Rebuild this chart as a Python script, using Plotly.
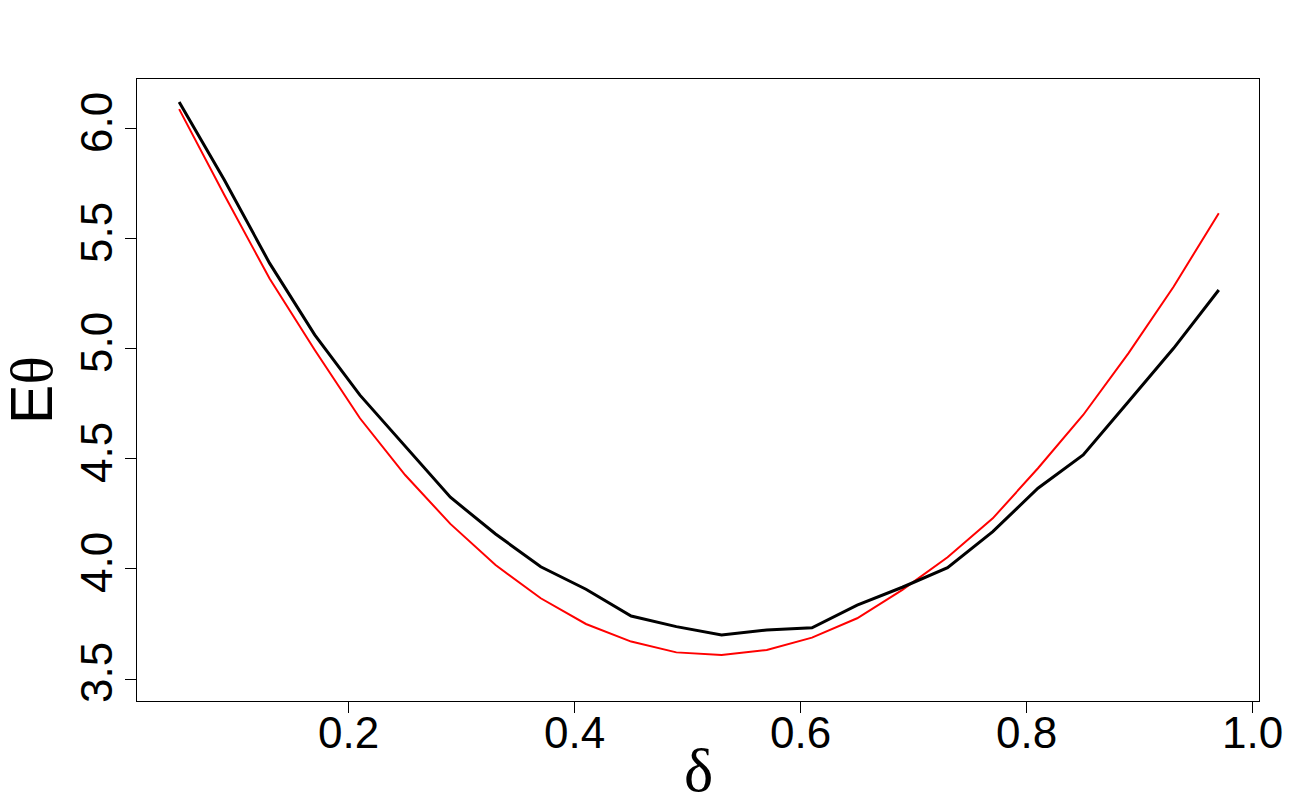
import plotly.graph_objects as go

delta = [0.05, 0.09, 0.13, 0.17, 0.21, 0.25, 0.29, 0.33, 0.37, 0.41, 0.45, 0.49,
         0.53, 0.57, 0.61, 0.65, 0.69, 0.73, 0.77, 0.81, 0.85, 0.89, 0.93, 0.97]
black_series = [6.123, 5.768, 5.39, 5.064, 4.79, 4.556, 4.326, 4.159, 4.01, 3.908, 3.786, 3.738,
                3.70, 3.723, 3.733, 3.836, 3.917, 4.006, 4.17, 4.367, 4.518, 4.76, 5.003, 5.268]
red_series = [6.09, 5.70, 5.32, 4.995, 4.685, 4.427, 4.205, 4.018, 3.867, 3.75, 3.67, 3.621,
              3.609, 3.632, 3.688, 3.776, 3.905, 4.053, 4.23, 4.458, 4.70, 4.98, 5.283, 5.617]
x_ticks = [0.2, 0.4, 0.6, 0.8, 1.0]
y_ticks = [3.5, 4.0, 4.5, 5.0, 5.5, 6.0]
x_title = "<span style='font-family:Liberation Serif'>δ</span>"
y_title = "E<span style='font-family:Liberation Serif'>θ</span>"

fig = go.Figure()
fig.add_trace(go.Scatter(x=delta, y=red_series, mode="lines",
                         line=dict(color="#ff0000", width=2), showlegend=False))
fig.add_trace(go.Scatter(x=delta, y=black_series, mode="lines",
                         line=dict(color="#000000", width=3), showlegend=False))

font_main = "Liberation Sans, Arial, sans-serif"
fig.update_layout(
    width=1300, height=800,
    margin=dict(l=129, r=49, t=71, b=107),
    paper_bgcolor="white", plot_bgcolor="white",
    font=dict(family=font_main, color="black", size=44),
    xaxis=dict(range=[0.0127, 1.0056], tickvals=x_ticks,
               ticktext=[f"{v:.1f}" for v in x_ticks], automargin=False,
               showgrid=False, zeroline=False, showline=True, mirror=True,
               linecolor="black", linewidth=1, ticks="outside", ticklen=11,
               tickcolor="black", tickfont=dict(size=44), ticklabelstandoff=-18),
    yaxis=dict(range=[3.4, 6.227], tickvals=y_ticks,
               ticktext=[f"{v:.1f}" for v in y_ticks], tickangle=-90, automargin=False,
               showgrid=False, zeroline=False, showline=True, mirror=True,
               linecolor="black", linewidth=1, ticks="outside", ticklen=11,
               tickcolor="black", tickfont=dict(size=44), ticklabelstandoff=-5),
    annotations=[
        dict(text=x_title, xref="paper", yref="paper", x=0.5, y=-0.1117,
             xanchor="center", yanchor="middle", showarrow=False,
             font=dict(size=62, color="black")),
        dict(text=y_title, xref="paper", yref="paper", x=-0.0936, y=0.5,
             xanchor="center", yanchor="middle", showarrow=False, textangle=-90,
             font=dict(size=59, color="black")),
    ],
)
fig.write_html("out.html")
